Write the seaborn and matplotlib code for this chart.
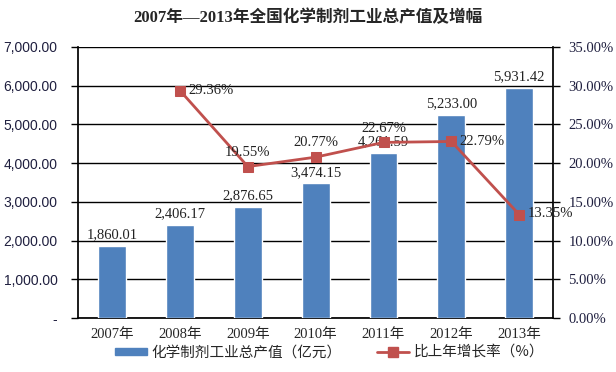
import matplotlib
matplotlib.use("Agg")
import matplotlib.pyplot as plt
import seaborn as sns
import pandas as pd
from matplotlib.lines import Line2D
from matplotlib.patches import Patch

years = ["2007年", "2008年", "2009年", "2010年", "2011年", "2012年", "2013年"]
output_value = [1860.01, 2406.17, 2876.65, 3474.15, 4261.59, 5233.00, 5931.42]
growth_years = ["2008年", "2009年", "2010年", "2011年", "2012年", "2013年"]
growth_rate = [29.36, 19.55, 20.77, 22.67, 22.79, 13.35]
left_ticks = [0, 1000, 2000, 3000, 4000, 5000, 6000, 7000]
right_ticks = [0, 5, 10, 15, 20, 25, 30, 35]

sns.set_theme(style="white")
serif = ["Liberation Serif", "Noto Sans CJK SC"]
plt.rcParams["font.family"] = serif

BLUE = "#4F81BD"
RED = "#C0504D"

fig = plt.figure(figsize=(6.16, 3.72), dpi=100)
ax = fig.add_axes([0.127, 0.145, 0.771, 0.729])

df = pd.DataFrame({"year": years, "value": output_value})
sns.barplot(data=df, x="year", y="value", color=BLUE, width=0.41, ax=ax,
            saturation=1, zorder=3)
ax.set_ylim(0, 7000)
ax.set_xlim(-0.5, 6.5)
ax.set_yticks(left_ticks)
ax.set_yticklabels(["-"] + [f"{v:,.2f}" for v in left_ticks[1:]],
                   family=["Liberation Sans", "DejaVu Sans"], fontsize=10, color="#1F1F3F")
ax.set_xlabel("")
ax.set_ylabel("")
ax.tick_params(axis="x", length=0, labelsize=10.5, pad=7)
for lab in ax.get_xticklabels():
    lab.set_fontfamily(serif)
ax.tick_params(axis="y", direction="out", length=5, width=1, color="black", left=True, pad=10)
for y in left_ticks:
    ax.axhline(y, color="black", lw=1, zorder=1)
for s in ["top", "right"]:
    ax.spines[s].set_visible(False)
ax.spines["left"].set_color("black")
ax.spines["bottom"].set_color("black")

for i, v in enumerate(output_value):
    ax.text(i, v + 120, f"{v:,.2f}", ha="center", va="bottom", fontsize=10.5,
            color="#222222", zorder=5)

ax2 = ax.twinx()
ax2.set_ylim(0, 35)
ax2.set_yticks(right_ticks)
ax2.set_yticklabels([f"{v:.2f}%" for v in right_ticks], fontsize=10.5, color="#1F1F3F")
ax2.tick_params(axis="y", direction="out", length=5, width=1, color="black", right=True, pad=6)
for s in ["top", "left", "bottom"]:
    ax2.spines[s].set_visible(False)
ax2.spines["right"].set_color("black")

gx = [years.index(y) for y in growth_years]
gdf = pd.DataFrame({"x": gx, "rate": growth_rate})
sns.lineplot(data=gdf, x="x", y="rate", color=RED, lw=2, marker="s", markersize=7,
             markeredgecolor=RED, ax=ax2, zorder=6)
ax2.set_xlim(-0.5, 6.5)
ax2.set_xlabel("")
ax2.set_ylabel("")

offsets = {0: (0.12, 0.0, "left", "center"),
           1: (0.0, 1.0, "center", "bottom"),
           2: (0.0, 1.0, "center", "bottom"),
           3: (0.0, 1.0, "center", "bottom"),
           4: (0.12, 0.0, "left", "center"),
           5: (0.12, 0.1, "left", "center")}
for k, (x, r) in enumerate(zip(gx, growth_rate)):
    dx, dy, ha, va = offsets[k]
    ax2.text(x + dx, r + dy, f"{r:.2f}%", ha=ha, va=va, fontsize=10.5,
             color="#222222", zorder=7)

fig.suptitle("2007年—2013年全国化学制剂工业总产值及增幅", x=0.5, y=0.975,
             fontsize=12, fontweight="bold", family=serif)

handles = [Patch(color=BLUE, label="化学制剂工业总产值（亿元）"),
           Line2D([0], [0], color=RED, lw=2, marker="s", markersize=7, label="比上年增长率（%）")]
fig.legend(handles=handles, loc="center", bbox_to_anchor=(0.535, 0.052), ncol=2,
           frameon=False, handlelength=2.2, handleheight=0.45, handletextpad=0.3,
           columnspacing=2.4,
           prop={"family": ["Noto Sans CJK SC"], "size": 10.5})

fig.savefig("out.png", dpi=100)
